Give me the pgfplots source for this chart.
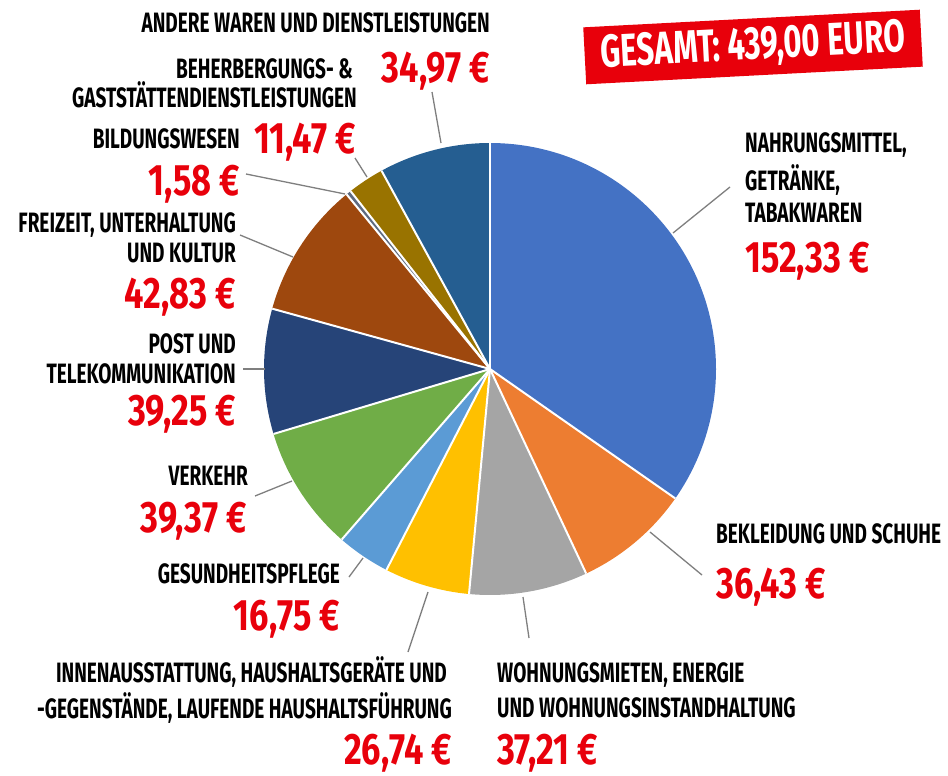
\documentclass[border=0pt]{standalone}
\usepackage{pgfplots}
\usepackage{pgfplotstable}
\pgfplotsset{compat=1.18}
\usepackage{fontspec}
\setmainfont{Fira Sans}[FakeStretch=0.68]
\newfontfamily\redfont{Fira Sans}[FakeStretch=0.78]
\definecolor{c1}{HTML}{4472C4}
\definecolor{c2}{HTML}{ED7D31}
\definecolor{c3}{HTML}{A5A5A5}
\definecolor{c4}{HTML}{FFC000}
\definecolor{c5}{HTML}{5B9BD5}
\definecolor{c6}{HTML}{70AD47}
\definecolor{c7}{HTML}{264478}
\definecolor{c8}{HTML}{9E480E}
\definecolor{c9}{HTML}{5E6A80}
\definecolor{c10}{HTML}{997300}
\definecolor{c11}{HTML}{255E91}
\definecolor{labred}{HTML}{E8000B}
\definecolor{leader}{HTML}{7F7F7F}
\pgfplotstableread{
value col
152.33 c1
36.43 c2
37.21 c3
26.74 c4
16.75 c5
39.37 c6
39.25 c7
42.83 c8
1.58 c9
11.47 c10
34.97 c11
}\piedata
\newcommand\blk{\fontsize{28}{30}\selectfont\bfseries}
\newcommand\rd{\redfont\fontsize{44}{46}\selectfont\bfseries\color{labred}}
\begin{document}
\begin{tikzpicture}
\useasboundingbox (0,0) rectangle (948pt,776pt);
\begin{axis}[at={(0,0)}, anchor=south west, x=1pt, y=1pt,
  xmin=0, xmax=948, ymin=0, ymax=776, y dir=reverse,
  hide axis, clip=false]
\pgfplotsextra{
  \pgfplotstablegetrowsof{\piedata}
  \pgfmathtruncatemacro\N{\pgfplotsretval-1}
  \xdef\total{0}
  \foreach \i in {0,...,\N}{%
    \pgfplotstablegetelem{\i}{value}\of\piedata
    \pgfmathsetmacro\t{\total+\pgfplotsretval}\xdef\total{\t}}
  \xdef\acc{0}
  \foreach \i in {0,...,\N}{%
    \pgfplotstablegetelem{\i}{value}\of\piedata \let\v\pgfplotsretval
    \pgfplotstablegetelem{\i}{col}\of\piedata \let\cc\pgfplotsretval
    \pgfmathsetmacro\sa{90-360*(\acc/\total)}
    \pgfmathsetmacro\t{\acc+\v}\xdef\acc{\t}
    \pgfmathsetmacro\ea{90-360*(\acc/\total)}
    \fill[fill=\cc] (axis cs:490,369) -- ++(\sa:226pt) arc[start angle=\sa, end angle=\ea, radius=226pt] -- cycle;
  }
  \xdef\acc{0}
  \foreach \i in {0,...,\N}{%
    \pgfplotstablegetelem{\i}{value}\of\piedata \let\v\pgfplotsretval
    \pgfmathsetmacro\sa{90-360*(\acc/\total)}
    \pgfmathsetmacro\t{\acc+\v}\xdef\acc{\t}
    \draw[white, line width=2pt] (axis cs:490,369) -- ++(\sa:226pt);
  }
}
% leader lines
\draw[leader, line width=1.3pt] (axis cs:432,92) -- (axis cs:441,143);
\draw[leader, line width=1.3pt] (axis cs:355,158) -- (axis cs:367,177);
\draw[leader, line width=1.3pt] (axis cs:246,174) -- (axis cs:345,194);
\draw[leader, line width=1.3pt] (axis cs:240,235) -- (axis cs:293,257);
\draw[leader, line width=1.3pt] (axis cs:243,369) -- (axis cs:265,369);
\draw[leader, line width=1.3pt] (axis cs:255,496) -- (axis cs:292,481);
\draw[leader, line width=1.3pt] (axis cs:349,577) -- (axis cs:363,558);
\draw[leader, line width=1.3pt] (axis cs:408,652) -- (axis cs:428,592);
\draw[leader, line width=1.3pt] (axis cs:529,638) -- (axis cs:523,597);
\draw[leader, line width=1.3pt] (axis cs:650,532) -- (axis cs:702,575);
\draw[leader, line width=1.3pt] (axis cs:673,233) -- (axis cs:730,187);
% labels
\tikzset{lb/.style={inner sep=0pt}}
\node[lb, anchor=base east] at (axis cs:490,33) {\blk ANDERE WAREN UND DIENSTLEISTUNGEN};
\node[lb, anchor=base east] at (axis cs:490,82) {\rd 34,97 €};
\node[lb, anchor=base east] at (axis cs:353,78) {\blk BEHERBERGUNGS- \&};
\node[lb, anchor=base east] at (axis cs:357,107) {\blk GASTSTÄTTENDIENSTLEISTUNGEN};
\node[lb, anchor=base east] at (axis cs:240,148) {\blk BILDUNGSWESEN};
\node[lb, anchor=base east] at (axis cs:356,153) {\rd 11,47 €};
\node[lb, anchor=base east] at (axis cs:240,195) {\rd 1,58 €};
\node[lb, anchor=base east] at (axis cs:236,232) {\blk FREIZEIT, UNTERHALTUNG};
\node[lb, anchor=base east] at (axis cs:236,262) {\blk UND KULTUR};
\node[lb, anchor=base east] at (axis cs:236,308) {\rd 42,83 €};
\node[lb, anchor=base east] at (axis cs:236,353) {\blk POST UND};
\node[lb, anchor=base east] at (axis cs:236,383) {\blk TELEKOMMUNIKATION};
\node[lb, anchor=base east] at (axis cs:236,425) {\rd 39,25 €};
\node[lb, anchor=base east] at (axis cs:248,485) {\blk VERKEHR};
\node[lb, anchor=base east] at (axis cs:247,532) {\rd 39,37 €};
\node[lb, anchor=base east] at (axis cs:340,583) {\blk GESUNDHEITSPFLEGE};
\node[lb, anchor=base east] at (axis cs:340,630) {\rd 16,75 €};
\node[lb, anchor=base east] at (axis cs:447,682) {\blk INNENAUSSTATTUNG, HAUSHALTSGERÄTE UND};
\node[lb, anchor=base east] at (axis cs:452,718) {\blk -GEGENSTÄNDE, LAUFENDE HAUSHALTSFÜHRUNG};
\node[lb, anchor=base east] at (axis cs:452,764) {\rd\smash{26,74 €}};
\node[lb, anchor=base west] at (axis cs:497,682) {\blk WOHNUNGSMIETEN, ENERGIE};
\node[lb, anchor=base west] at (axis cs:497,717) {\blk UND WOHNUNGSINSTANDHALTUNG};
\node[lb, anchor=base west] at (axis cs:497,764) {\rd\smash{37,21 €}};
\node[lb, anchor=base west] at (axis cs:716,543) {\blk BEKLEIDUNG UND SCHUHE};
\node[lb, anchor=base west] at (axis cs:716,598) {\rd 36,43 €};
\node[lb, anchor=base west] at (axis cs:745,152) {\blk NAHRUNGSMITTEL,};
\node[lb, anchor=base west] at (axis cs:745,190) {\blk GETRÄNKE,};
\node[lb, anchor=base west] at (axis cs:745,222) {\blk TABAKWAREN};
\node[lb, anchor=base west] at (axis cs:745,272) {\rd 152,33 €};
\node[fill=labred, text=white, rotate=3, minimum width=337pt, minimum height=57pt, inner sep=0pt]
  at (axis cs:753,47) {\fontsize{46}{50}\selectfont\bfseries GESAMT: 439,00 EURO};
\end{axis}
\end{tikzpicture}
\end{document}
